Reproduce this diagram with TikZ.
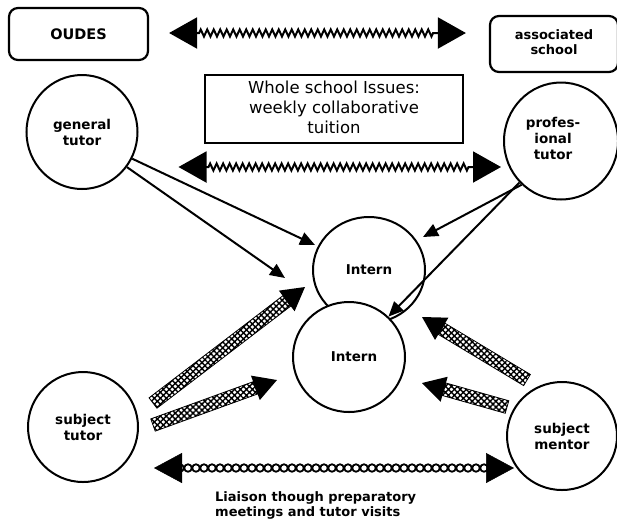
\documentclass[tikz,border=0pt]{standalone}
\usepackage{fontspec}
\setmainfont{DejaVu Sans}
\usetikzlibrary{shapes.geometric,arrows.meta,decorations.pathmorphing,decorations.shapes,patterns.meta,calc}
\newcommand\hatcharrow[2]{%
  \coordinate (hb) at ($(#2)!23pt!(#1)$);
  \draw[line width=0.8pt, pattern={Hatch[angle=45,distance=4.2pt,line width=1.4pt]}]
    ($(#1)!6.5pt!90:(hb)$) -- ($(hb)!6.5pt!-90:(#1)$) -- ($(hb)!6.5pt!90:(#1)$) -- ($(#1)!6.5pt!-90:(hb)$) -- cycle;
  \fill ($(hb)!13pt!90:(#2)$) -- (#2) -- ($(hb)!13pt!-90:(#2)$) -- cycle;
}
\begin{document}
\begin{tikzpicture}[x=1pt,y=-1pt,
  box/.style={draw, line width=2.2pt, rounded corners=9pt, inner sep=0pt,
    font=\bfseries\fontsize{13}{15}\selectfont},
  circ/.style={ellipse, draw, line width=2pt, fill=white, inner sep=0pt, align=center,
    font=\bfseries\fontsize{13.5}{16}\selectfont},
  plain/.style={line width=2pt, -{Triangle[length=15pt,width=13pt]}},
  zz/.style={line width=2pt, decorate,
    decoration={zigzag, segment length=6.5pt, amplitude=3.5pt, pre length=30pt, post length=30pt},
    {Triangle[length=28pt,width=31pt]}-{Triangle[length=28pt,width=31pt]}},
  chainends/.style={white, line width=0.5pt,
    {Triangle[length=28pt,width=30pt,color=black]}-{Triangle[length=28pt,width=30pt,color=black]}},
  chain/.style={line width=1.8pt, decorate,
    decoration={shape backgrounds, shape=circle, shape size=7.5pt, shape sep={8pt, between centers}}},
  captext/.style={align=left, inner sep=0pt, font=\bfseries\fontsize{13}{15.5}\selectfont}
]
\useasboundingbox (0,0) rectangle (617,523);

% boxes
\node[box, minimum width=139pt, minimum height=52pt, font=\bfseries\fontsize{14.5}{17}\selectfont] (oudes) at (78.5,34) {OUDES};
\node[box, minimum width=128pt, minimum height=56pt] (assoc) at (554,44)
  {\begin{tabular}{@{}c@{}}associated\\school\end{tabular}\rule[-10pt]{0pt}{0pt}};
\node[draw, line width=1.6pt, minimum width=258pt, minimum height=68pt, inner sep=0pt,
  font=\fontsize{16.5}{20}\selectfont] (whole) at (334,109)
  {\begin{tabular}{@{}c@{}}Whole school Issues:\\weekly collaborative\\tuition\end{tabular}\hspace{28pt}};

% circles
\node[circ, minimum width=111pt, minimum height=114pt] (gen) at (82,132) {general\\tutor};
\node[circ, minimum width=114pt, minimum height=117pt] (prof) at (561,141)
  {\begin{tabular}{@{}c@{}}profes-\\ional\\tutor\end{tabular}\hspace{16pt}\rule[-22pt]{0pt}{0pt}};
\node[circ, minimum width=112pt, minimum height=106pt] (intA) at (369,270) {Intern};
\node[circ, minimum width=112pt, minimum height=110pt] (intB) at (349,357) {\hspace{10pt}Intern};
\node[circ, minimum width=110pt, minimum height=110pt] (subt) at (83,427) {subject\\tutor};
\node[circ, minimum width=110pt, minimum height=108pt] (subm) at (562,436) {subject\\mentor};

% caption
\node[captext, anchor=north west] (cap) at (215,491) {Liaison though preparatory\\meetings and tutor visits};

% zigzag double arrows
\draw[zz] ($(oudes.east)+(20,-1)$) -- ($(assoc.west)+(-23,-11)$);
\draw[zz] ($(gen.east)+(40,35)$) -- ($(prof.west)+(-2,26)$);

% chain double arrow
\coordinate (c1) at ($(subt.east)+(15,41)$);
\coordinate (c2) at ($(subm.west)+(8,32)$);
\draw[chainends] (c1) -- (c2);
\draw[chain] ($(c1)!26pt!(c2)$) -- ($(c2)!26pt!(c1)$);

% plain arrows
\coordinate (g1) at (315,245);
\coordinate (g2) at (285,278);
\coordinate (p1) at (423,237);
\draw[plain] (gen.-28) -- (g1);
\draw[plain] (gen.-38) -- (g2);
\draw[plain] (prof.228) -- (p1);
\draw[plain] (prof.225) -- (intB);

% hatched arrows
\coordinate (st1a) at (153,403); \coordinate (st1b) at (305,287);
\coordinate (st2a) at (153,425); \coordinate (st2b) at (277,380);
\coordinate (sm1a) at (527,380); \coordinate (sm1b) at (422,317);
\coordinate (sm2a) at (507,407); \coordinate (sm2b) at (422,383);
\hatcharrow{st1a}{st1b}
\hatcharrow{st2a}{st2b}
\hatcharrow{sm1a}{sm1b}
\hatcharrow{sm2a}{sm2b}
\end{tikzpicture}
\end{document}
